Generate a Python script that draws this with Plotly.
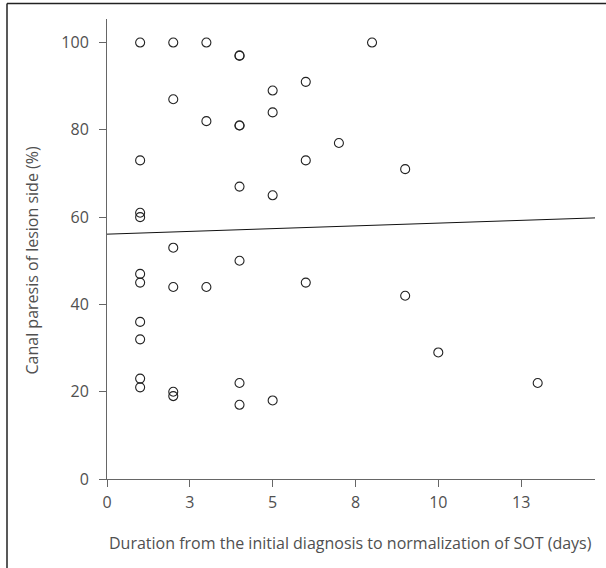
import plotly.graph_objects as go

# Data
days = [1]*10 + [2]*6 + [3]*3 + [4]*8 + [5]*4 + [6]*3 + [7] + [8] + [9]*2 + [10] + [13]
canal_paresis = [100, 73, 61, 60, 47, 45, 36, 32, 23, 21,
                 100, 87, 53, 44, 20, 19,
                 100, 82, 44,
                 97, 97, 81, 81, 67, 50, 22, 17,
                 89, 84, 65, 18,
                 91, 73, 45,
                 77,
                 100,
                 71, 42,
                 29,
                 22]

x_tickvals = [0, 2.5, 5, 7.5, 10, 12.5]
x_ticktext = ["0", "3", "5", "8", "10", "13"]
y_tickvals = [0, 20, 40, 60, 80, 100]

fit_intercept = 56.1
fit_slope = 0.253
x_max = 14.73
y_max = 105.4

x_title = "Duration from the initial diagnosis to normalization of SOT (days)"
y_title = "Canal paresis of lesion side (%)"

FONT = "Open Sans"
TXT = "#505050"
AX = "#666666"

fit_x = [0, x_max]
fit_y = [fit_intercept + fit_slope * v for v in fit_x]

fig = go.Figure()
fig.add_trace(go.Scatter(
    x=fit_x, y=fit_y, mode="lines",
    line=dict(color="#111111", width=1), hoverinfo="skip", showlegend=False))
fig.add_trace(go.Scatter(
    x=days, y=canal_paresis, mode="markers",
    marker=dict(symbol="circle-open", size=9, color="#222222", line=dict(width=1.1)),
    showlegend=False))

W, H = 606, 568
ml, mr, mt, mb = 107, 11, 19, 89
pw, ph = W - ml - mr, H - mt - mb

def px_x(p):
    return (p - ml) / pw

def px_y(p):
    return (H - mb - p) / ph

fig.update_layout(
    width=W, height=H,
    margin=dict(l=ml, r=mr, t=mt, b=mb, autoexpand=False),
    paper_bgcolor="white", plot_bgcolor="white",
    font=dict(family=FONT, size=16, color=TXT),
    xaxis=dict(range=[0, x_max], tickvals=x_tickvals, ticktext=x_ticktext,
               showline=True, linecolor=AX, linewidth=1, ticks="outside",
               ticklen=7, tickcolor=AX, showgrid=False, zeroline=False,
               automargin=False, ticklabelstandoff=2,
               tickfont=dict(family=FONT, size=16, color=TXT)),
    yaxis=dict(range=[0, y_max], tickvals=y_tickvals,
               showline=True, linecolor=AX, linewidth=1, ticks="outside",
               ticklen=7, tickcolor=AX, showgrid=False, zeroline=False,
               automargin=False, ticklabelstandoff=7,
               tickfont=dict(family=FONT, size=16, color=TXT)),
    shapes=[
        dict(type="line", xref="paper", yref="paper",
             x0=px_x(7), x1=px_x(7), y0=px_y(3.5), y1=px_y(575),
             line=dict(color="#222222", width=1.5)),
        dict(type="line", xref="paper", yref="paper",
             x0=px_x(7), x1=px_x(610), y0=px_y(3.5), y1=px_y(3.5),
             line=dict(color="#222222", width=1.5)),
    ],
    annotations=[
        dict(text=x_title, xref="paper", yref="paper", x=px_x(350.5), y=px_y(543),
             xanchor="center", yanchor="middle", showarrow=False,
             font=dict(family=FONT, size=16, color=TXT)),
        dict(text=y_title, xref="paper", yref="paper", x=px_x(31), y=px_y(260.5),
             xanchor="center", yanchor="middle", showarrow=False, textangle=-90,
             font=dict(family=FONT, size=16, color=TXT)),
    ],
)

fig.write_html("out.html", config={"displayModeBar": False},
               post_script="document.body.style.margin='0';document.body.style.overflow='hidden';")
